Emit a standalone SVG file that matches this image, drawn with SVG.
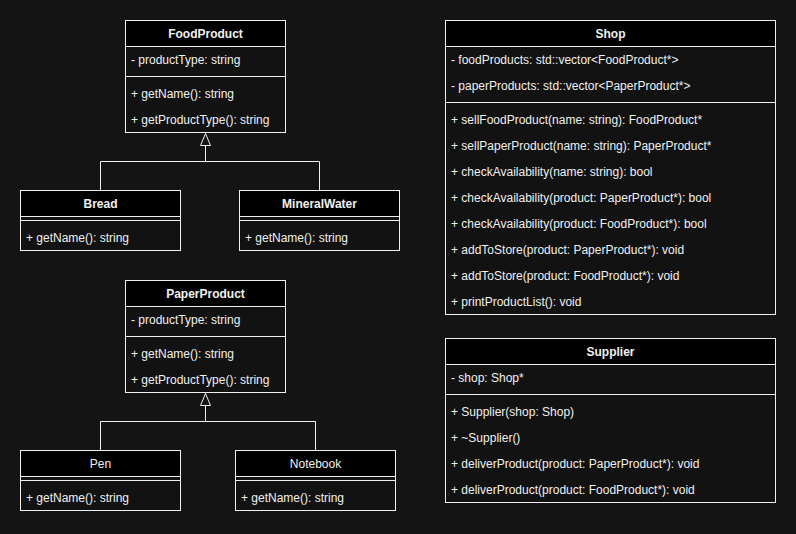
<svg xmlns="http://www.w3.org/2000/svg" width="796" height="534" viewBox="0 0 796 534">
<style>
.box{fill:#121212;stroke:#f0f0f0;stroke-width:1}
.hdr{fill:#000;stroke:#f0f0f0;stroke-width:1}
.sep{stroke:#f0f0f0;stroke-width:1;fill:none}
text{font-family:"Liberation Sans",Arial,Helvetica,sans-serif;font-size:12px;fill:#f0f0f0}
.t{font-weight:bold;text-anchor:middle}
.tn{text-anchor:middle}
.edge{stroke:#f0f0f0;stroke-width:1;fill:none}
</style>
<defs>
<marker id="inh" markerWidth="14" markerHeight="14" refX="13" refY="7" orient="auto" markerUnits="userSpaceOnUse">
<path d="M13,7 L1,2 L1,12 Z" fill="#141414" stroke="#f0f0f0" stroke-width="1"/>
</marker>
</defs>
<rect width="796" height="534" fill="#141414"/>

<g id="connectors">
<path class="edge" d="M100.5,190.5 V161.5 H205.5 V133.5" marker-end="url(#inh)"/>
<path class="edge" d="M319.5,190.5 V161.5 H205.5"/>
<path class="edge" d="M100.5,450.5 V421.5 H205.5 V393.5" marker-end="url(#inh)"/>
<path class="edge" d="M315.5,450.5 V421.5 H205.5"/>
</g>

<g id="FoodProduct">
<rect class="box" x="125.5" y="20.5" width="160" height="112"/>
<rect class="hdr" x="125.5" y="20.5" width="160" height="26"/>
<text class="t" x="205.5" y="38">FoodProduct</text>
<text x="131" y="64">- productType: string</text>
<line class="sep" x1="125.5" y1="76.5" x2="285.5" y2="76.5"/>
<text x="131" y="98">+ getName(): string</text>
<text x="131" y="124">+ getProductType(): string</text>
</g>

<g id="Bread">
<rect class="box" x="20.5" y="190.5" width="160" height="60"/>
<rect class="hdr" x="20.5" y="190.5" width="160" height="26"/>
<text class="t" x="100.5" y="208">Bread</text>
<line class="sep" x1="20.5" y1="220.5" x2="180.5" y2="220.5"/>
<text x="26" y="242">+ getName(): string</text>
</g>

<g id="MineralWater">
<rect class="box" x="239.5" y="190.5" width="160" height="60"/>
<rect class="hdr" x="239.5" y="190.5" width="160" height="26"/>
<text class="t" x="319.5" y="208">MineralWater</text>
<line class="sep" x1="239.5" y1="220.5" x2="399.5" y2="220.5"/>
<text x="245" y="242">+ getName(): string</text>
</g>

<g id="PaperProduct">
<rect class="box" x="125.5" y="280.5" width="160" height="112"/>
<rect class="hdr" x="125.5" y="280.5" width="160" height="26"/>
<text class="t" x="205.5" y="298">PaperProduct</text>
<text x="131" y="324">- productType: string</text>
<line class="sep" x1="125.5" y1="336.5" x2="285.5" y2="336.5"/>
<text x="131" y="358">+ getName(): string</text>
<text x="131" y="384">+ getProductType(): string</text>
</g>

<g id="Pen">
<rect class="box" x="20.5" y="450.5" width="160" height="60"/>
<rect class="hdr" x="20.5" y="450.5" width="160" height="26"/>
<text class="tn" x="100.5" y="468">Pen</text>
<line class="sep" x1="20.5" y1="480.5" x2="180.5" y2="480.5"/>
<text x="26" y="502">+ getName(): string</text>
</g>

<g id="Notebook">
<rect class="box" x="235.5" y="450.5" width="160" height="60"/>
<rect class="hdr" x="235.5" y="450.5" width="160" height="26"/>
<text class="tn" x="315.5" y="468">Notebook</text>
<line class="sep" x1="235.5" y1="480.5" x2="395.5" y2="480.5"/>
<text x="241" y="502">+ getName(): string</text>
</g>

<g id="Shop">
<rect class="box" x="445.5" y="20.5" width="330" height="294"/>
<rect class="hdr" x="445.5" y="20.5" width="330" height="26"/>
<text class="t" x="610.5" y="38">Shop</text>
<text x="451" y="64">- foodProducts: std::vector&lt;FoodProduct*&gt;</text>
<text x="451" y="90">- paperProducts: std::vector&lt;PaperProduct*&gt;</text>
<line class="sep" x1="445.5" y1="102.5" x2="775.5" y2="102.5"/>
<text x="451" y="124">+ sellFoodProduct(name: string): FoodProduct*</text>
<text x="451" y="150">+ sellPaperProduct(name: string): PaperProduct*</text>
<text x="451" y="176">+ checkAvailability(name: string): bool</text>
<text x="451" y="202">+ checkAvailability(product: PaperProduct*): bool</text>
<text x="451" y="228">+ checkAvailability(product: FoodProduct*): bool</text>
<text x="451" y="254">+ addToStore(product: PaperProduct*): void</text>
<text x="451" y="280">+ addToStore(product: FoodProduct*): void</text>
<text x="451" y="306">+ printProductList(): void</text>
</g>

<g id="Supplier">
<rect class="box" x="445.5" y="338.5" width="330" height="164"/>
<rect class="hdr" x="445.5" y="338.5" width="330" height="26"/>
<text class="t" x="610.5" y="356">Supplier</text>
<text x="451" y="382">- shop: Shop*</text>
<line class="sep" x1="445.5" y1="394.5" x2="775.5" y2="394.5"/>
<text x="451" y="416">+ Supplier(shop: Shop)</text>
<text x="451" y="442">+ ~Supplier()</text>
<text x="451" y="468">+ deliverProduct(product: PaperProduct*): void</text>
<text x="451" y="494">+ deliverProduct(product: FoodProduct*): void</text>
</g>
</svg>
